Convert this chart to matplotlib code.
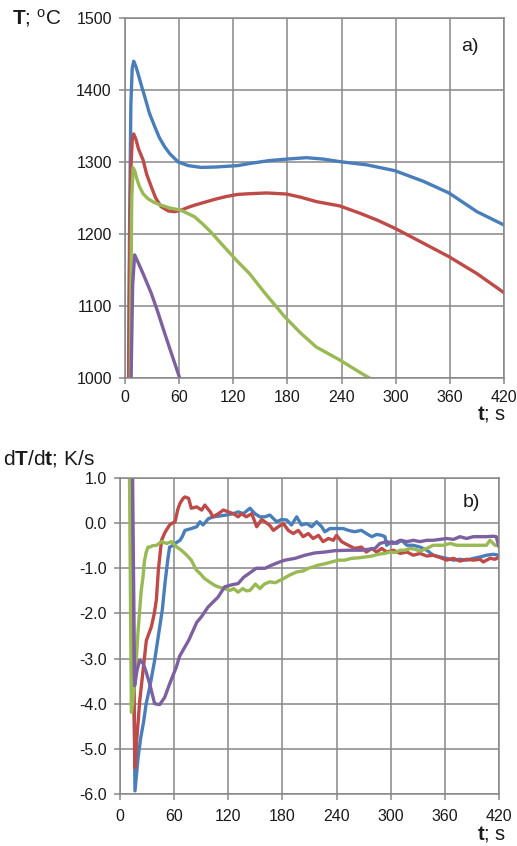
import matplotlib
matplotlib.use("Agg")
import matplotlib.pyplot as plt
from matplotlib.ticker import FuncFormatter

plt.rcParams['font.family'] = ['Liberation Sans', 'DejaVu Sans']
plt.rcParams['mathtext.fontset'] = 'custom'
plt.rcParams['mathtext.rm'] = 'Liberation Sans'
plt.rcParams['mathtext.it'] = 'Liberation Sans:italic'
plt.rcParams['mathtext.bf'] = 'Liberation Sans:bold'

# ---- panel a): temperature T (deg C) vs time t (s) ----
t_blue_a = [3.5, 5, 6.5, 8, 9.6, 12, 14.4, 18, 21.8, 27, 33, 38, 44, 50, 59, 70, 84, 100, 125,
            138.5, 160, 179, 201, 220, 238, 268, 299, 331, 359, 390, 420]
T_blue_a = [900, 1200, 1380, 1430, 1440, 1433, 1423, 1407, 1391, 1368, 1349, 1334, 1321, 1311,
            1300, 1295, 1292.5, 1293, 1295, 1298, 1302, 1304, 1306, 1304, 1300.5, 1296, 1288,
            1273, 1257, 1231, 1212.5]

t_red_a = [3.5, 5, 6.5, 8, 9.6, 12, 15, 20, 24, 29, 34, 40, 48, 55, 62, 70, 77, 88, 99, 112, 125,
           138.5, 157, 179, 195, 212, 238, 260, 280, 299, 331, 359, 390, 420]
T_red_a = [900, 1150, 1290, 1330, 1339, 1332, 1318, 1303, 1283, 1266, 1250, 1238, 1232, 1231,
           1233, 1237, 1240, 1244, 1248, 1252, 1255, 1256, 1257, 1255.5, 1251, 1245, 1239, 1229,
           1219, 1208, 1187, 1168.5, 1145, 1118.5]

t_green_a = [5.5, 6.5, 7.5, 9, 11, 13, 16, 20, 25.5, 32, 40, 50, 62, 77, 86, 95, 110, 125, 138,
             155, 177, 195, 212, 238, 260, 275, 290]
T_green_a = [900, 1120, 1250, 1292, 1287, 1277, 1266, 1256, 1249, 1244, 1240, 1236, 1233, 1224,
             1214, 1203, 1182, 1161.5, 1145, 1118, 1085, 1062, 1043, 1025, 1008, 997, 985]

t_purple_a = [6, 7, 8.5, 10.7, 14, 20, 29, 36, 44, 52, 60.6, 65]
T_purple_a = [900, 1020, 1130, 1171, 1162, 1145, 1118, 1093, 1062, 1032, 1000, 985]

# ---- panel b): cooling/heating rate dT/dt (K/s) vs time t (s) ----
t_blue_b = [11, 16.6, 20, 23, 26, 29, 32.9, 38.4, 44, 47, 50, 53, 55, 58, 61, 66.5, 69, 72, 79,
            85, 88.6, 92, 98, 103.5, 111, 118, 125.6, 131, 136.7, 144, 149.6, 155, 160.7, 166,
            173.6, 179, 184.7, 190, 195.8, 201, 207, 212.4, 218, 223.5, 227, 232.7, 240, 247.5,
            253, 260, 267.5, 273, 279, 284.5, 290, 293.6, 295.5, 301, 306.7, 312, 318, 325,
            332.5, 340, 347, 354.6, 362, 369.5, 376.8, 384, 391.7, 399, 406.3, 413.7, 420]
v_blue_b = [5.0, -5.93, -5.2, -4.75, -4.42, -4.0, -3.64, -3.04, -2.3, -1.9, -1.3, -0.8, -0.53,
            -0.5, -0.45, -0.38, -0.3, -0.16, -0.12, -0.08, 0.03, -0.04, 0.1, 0.14, 0.16, 0.18,
            0.21, 0.25, 0.21, 0.33, 0.21, 0.14, 0.14, 0.18, 0.03, 0.08, 0.07, -0.04, 0.14, -0.04,
            -0.01, -0.08, 0.03, -0.08, -0.19, -0.12, -0.12, -0.12, -0.16, -0.19, -0.16, -0.23,
            -0.3, -0.25, -0.27, -0.3, -0.49, -0.41, -0.45, -0.38, -0.49, -0.49, -0.53, -0.6,
            -0.71, -0.75, -0.78, -0.82, -0.8, -0.82, -0.78, -0.75, -0.71, -0.69, -0.71]

t_red_b = [10, 16.6, 18.5, 21.8, 25.5, 29.2, 34.7, 38, 40.3, 42.5, 46, 50, 55, 58, 61, 64, 66.5,
           70, 72, 76, 79, 85, 90.5, 94, 100, 103, 109, 114.5, 120, 125.6, 131, 134.6, 140, 146,
           151.5, 157, 162.6, 166, 170, 175.4, 181, 186.5, 192, 197.6, 203, 208.6, 214, 220,
           225, 231, 236.4, 240, 245.6, 253, 260, 267.5, 273, 279, 284.5, 290, 295.5, 303,
           310.4, 318, 325, 332.5, 340, 347, 354.6, 362, 369.5, 376.8, 384, 391.7, 399, 402.6,
           410, 415.6, 420]
v_red_b = [5.0, -5.42, -4.82, -3.95, -3.27, -2.6, -2.3, -2.0, -1.7, -1.04, -0.38, -0.2, -0.04,
           0.0, 0.03, 0.3, 0.44, 0.55, 0.58, 0.55, 0.33, 0.36, 0.29, 0.4, 0.25, 0.14, 0.21,
           0.29, 0.25, 0.21, 0.14, 0.21, 0.14, 0.21, -0.08, 0.08, 0.0, -0.05, -0.16, -0.08,
           -0.01, -0.16, -0.23, -0.16, -0.3, -0.23, -0.34, -0.27, -0.41, -0.34, -0.38, -0.27,
           -0.41, -0.49, -0.56, -0.53, -0.64, -0.56, -0.64, -0.56, -0.64, -0.6, -0.67, -0.64,
           -0.71, -0.67, -0.73, -0.71, -0.76, -0.82, -0.78, -0.84, -0.8, -0.82, -0.8, -0.86,
           -0.78, -0.8, -0.75]

t_green_b = [9, 12.6, 14, 16, 18, 20, 21.8, 23.5, 25.5, 27, 29, 31, 33, 36, 40.6, 46, 51.7, 57,
             63, 68, 74, 79, 84.6, 89, 93.8, 99, 105, 110, 116, 122, 126, 130.8, 136, 140, 144,
             150, 155, 160, 166, 172, 181, 188, 196, 203, 208.6, 214, 219.7, 227, 234.5, 241.8,
             249, 256.7, 264, 271.5, 279, 286, 293.6, 299, 305, 310.4, 316, 321.5, 327, 332.5,
             340, 347, 358, 366, 373, 381, 388, 399, 406, 410, 415.6, 420]
v_green_b = [5.0, -4.19, -4.0, -3.5, -3.04, -2.4, -1.93, -1.5, -1.19, -0.85, -0.65, -0.53, -0.53,
             -0.5, -0.49, -0.41, -0.45, -0.41, -0.53, -0.6, -0.71, -0.82, -1.04, -1.12, -1.23,
             -1.3, -1.38, -1.42, -1.45, -1.49, -1.45, -1.53, -1.45, -1.5, -1.49, -1.35, -1.45,
             -1.35, -1.3, -1.32, -1.23, -1.15, -1.08, -1.06, -1.0, -0.97, -0.93, -0.9, -0.86,
             -0.82, -0.82, -0.78, -0.77, -0.75, -0.73, -0.69, -0.67, -0.64, -0.65, -0.6, -0.6,
             -0.56, -0.58, -0.62, -0.56, -0.49, -0.49, -0.45, -0.49, -0.49, -0.49, -0.49, -0.49,
             -0.38, -0.49, -0.49]

t_purple_b = [12, 16.2, 19, 21.8, 25.5, 29, 32.9, 38.4, 44, 49.5, 55, 62.4, 66, 71.7, 76, 81,
              85, 90, 97.5, 103, 108.6, 116, 125, 130.8, 137, 144, 151, 160.7, 166, 171.8,
              177, 182.8, 194, 205, 216, 227, 238, 253, 267.5, 282.6, 288, 295.5, 303, 310.4,
              318, 325, 332.5, 340, 347, 354.6, 362, 369.5, 376.8, 384, 391.7, 399, 406, 413.7,
              417, 420]
v_purple_b = [5.0, -3.6, -3.25, -3.04, -3.1, -3.3, -3.56, -4.0, -4.02, -3.86, -3.56, -3.19,
              -2.95, -2.75, -2.6, -2.38, -2.2, -2.08, -1.86, -1.75, -1.64, -1.41, -1.36, -1.34,
              -1.2, -1.1, -1.0, -1.0, -0.95, -0.9, -0.86, -0.82, -0.78, -0.71, -0.66, -0.64,
              -0.61, -0.6, -0.6, -0.56, -0.45, -0.41, -0.45, -0.38, -0.41, -0.38, -0.41, -0.38,
              -0.38, -0.36, -0.34, -0.36, -0.3, -0.34, -0.3, -0.3, -0.3, -0.29, -0.3, -0.53]

x_ticks = [0, 60, 120, 180, 240, 300, 360, 420]
T_ticks = [1000, 1100, 1200, 1300, 1400, 1500]
rate_ticks = [-6.0, -5.0, -4.0, -3.0, -2.0, -1.0, 0.0, 1.0]

BLUE = '#4A7EBB'
RED = '#BE4B48'
GREEN = '#98B954'
PURPLE = '#7D60A0'
GRID = '#878787'
TXT = '#1a1a1a'
LW = 2.4

fig = plt.figure(figsize=(5.17, 8.46), dpi=100)
ax1 = fig.add_axes([125 / 517, 1 - 378 / 846, 379 / 517, 360 / 846])
ax2 = fig.add_axes([120 / 517, 1 - 794 / 846, 379 / 517, 316 / 846])


def style(ax, xpad):
    ax.grid(True, color=GRID, linewidth=1.1)
    ax.set_axisbelow(True)
    for s in ax.spines.values():
        s.set_color(GRID)
        s.set_linewidth(1.1)
    ax.tick_params(axis='both', direction='out', length=4.5, width=1.1, color=GRID,
                   labelsize=11.5, labelcolor=TXT)
    ax.tick_params(axis='y', pad=5)
    ax.tick_params(axis='x', pad=xpad)
    ax.set_xlim(0, 420)
    ax.set_xticks(x_ticks)


style(ax1, 4)
ax1.set_ylim(1000, 1500)
ax1.set_yticks(T_ticks)
for tt, vv, c in [(t_blue_a, T_blue_a, BLUE), (t_red_a, T_red_a, RED),
                  (t_green_a, T_green_a, GREEN), (t_purple_a, T_purple_a, PURPLE)]:
    ax1.plot(tt, vv, color=c, lw=LW, solid_joinstyle='round', solid_capstyle='round')
ax1.text(0.91, 0.92, 'a)', transform=ax1.transAxes, fontsize=14, ha='center', va='center',
         color=TXT)

style(ax2, 6)
ax2.set_ylim(-6.0, 1.0)
ax2.set_yticks(rate_ticks)
ax2.yaxis.set_major_formatter(FuncFormatter(lambda v, p: f"{v:.1f}".replace('\u2212', '-')))
for tt, vv, c in [(t_blue_b, v_blue_b, BLUE), (t_red_b, v_red_b, RED),
                  (t_green_b, v_green_b, GREEN), (t_purple_b, v_purple_b, PURPLE)]:
    ax2.plot(tt, vv, color=c, lw=LW, solid_joinstyle='round', solid_capstyle='round')
ax2.text(0.926, 0.924, 'b)', transform=ax2.transAxes, fontsize=14, ha='center', va='center',
         color=TXT)

# axis titles
fig.text(12 / 517, 1 - 18 / 846, r'$\mathbf{T}$; $^{\mathrm{o}}$C', fontsize=15,
         ha='left', va='center', color=TXT)
fig.text(506 / 517, 1 - 414 / 846, r'$\mathbf{t}$; s', fontsize=14.5,
         ha='right', va='center', color=TXT)
fig.text(3 / 517, 1 - 458 / 846, r'd$\mathbf{T}$/d$\mathbf{t}$; K/s', fontsize=15,
         ha='left', va='center', color=TXT)
fig.text(506 / 517, 1 - 834 / 846, r'$\mathbf{t}$; s', fontsize=14.5,
         ha='right', va='center', color=TXT)

fig.savefig('out.png', dpi=100)
